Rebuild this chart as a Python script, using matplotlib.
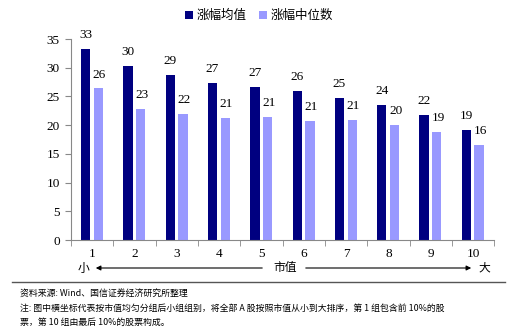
import numpy as np
import matplotlib.pyplot as plt

plt.rcParams['font.family'] = ['Noto Sans CJK SC', 'DejaVu Sans']

groups = ['1', '2', '3', '4', '5', '6', '7', '8', '9', '10']
mean_vals = [33.2, 30.3, 28.7, 27.4, 26.7, 25.9, 24.7, 23.6, 21.8, 19.1]
median_vals = [26.4, 22.8, 21.9, 21.3, 21.4, 20.7, 20.9, 20.1, 18.9, 16.5]
mean_labels = ['33', '30', '29', '27', '27', '26', '25', '24', '22', '19']
median_labels = ['26', '23', '22', '21', '21', '21', '21', '20', '19', '16']

dark = '#000080'
light = '#9999FF'
serif = 'Liberation Serif'

fig = plt.figure(figsize=(5.18, 3.28), dpi=100)
ax = fig.add_axes([0.137, 0.268, 0.817, 0.613])

x = np.arange(len(groups))
w = 0.22
b1 = ax.bar(x - 0.155, mean_vals, w, color=dark, label='涨幅均值')
b2 = ax.bar(x + 0.145, median_vals, w, color=light, label='涨幅中位数')

# value labels above bars
for rect, lab in zip(b1, mean_labels):
    ax.annotate(lab, (rect.get_x() + rect.get_width() / 2, rect.get_height()),
                xytext=(0, 10), textcoords='offset points', ha='center', va='center',
                fontsize=9.5, family=serif, annotation_clip=False)
for rect, lab in zip(b2, median_labels):
    ax.annotate(lab, (rect.get_x() + rect.get_width() / 2 + 0.03, rect.get_height()),
                xytext=(0, 10), textcoords='offset points', ha='center', va='center',
                fontsize=9.5, family=serif, annotation_clip=False)

ax.set_xlim(-0.5, 9.5)
ax.set_ylim(0, 35)
ax.set_yticks(range(0, 36, 5))
ax.set_xticks(x)
ax.set_xticklabels(groups)
ax.set_xticks(np.arange(-0.5, 10, 1), minor=True)
ax.tick_params(axis='x', which='major', length=0, pad=6)
ax.tick_params(axis='x', which='minor', length=4, direction='out', color='#888888')
ax.tick_params(axis='y', length=4, direction='out', color='#888888', pad=4)
for t in ax.get_xticklabels() + ax.get_yticklabels():
    t.set_fontfamily(serif)
    t.set_fontsize(9.5)
for s in ['top', 'right']:
    ax.spines[s].set_visible(False)
for s in ['left', 'bottom']:
    ax.spines[s].set_color('#888888')

fig.legend(handles=[b1, b2], loc='center', bbox_to_anchor=(0.5, 0.952), ncol=2,
           frameon=False, fontsize=9, handlelength=0.6, handleheight=0.6,
           handletextpad=0.3, columnspacing=1.0)

# small -> large market cap arrow under the x axis
fy = 1 - 268 / 328
fig.text(83 / 518, fy, '小', ha='center', va='center', fontsize=8.5)
fig.text(285 / 518, fy, '市值', ha='center', va='center', fontsize=8.5)
fig.text(484 / 518, fy, '大', ha='center', va='center', fontsize=8.5)
ax.annotate('', xy=(93 / 518, fy), xytext=(265 / 518, fy), xycoords='figure fraction',
            arrowprops=dict(arrowstyle='-|>', color='black', lw=0.8, mutation_scale=7))
ax.annotate('', xy=(474 / 518, fy), xytext=(303 / 518, fy), xycoords='figure fraction',
            arrowprops=dict(arrowstyle='-|>', color='black', lw=0.8, mutation_scale=7))

fig.add_artist(plt.Line2D([12 / 518, 505 / 518], [1 - 282 / 328, 1 - 282 / 328],
                          color='#555555', lw=1.0))

notes = ['资料来源: Wind、国信证券经济研究所整理',
         '注: 图中横坐标代表按市值均匀分组后小组组别，将全部 A 股按照市值从小到大排序，第 1 组包含前 10%的股',
         '票，第 10 组由最后 10%的股票构成。']
for i, line in enumerate(notes):
    fig.text(20 / 518, 1 - (294 + i * 14) / 328, line, ha='left', va='center', fontsize=6.4)

fig.savefig('out.png', dpi=100)
